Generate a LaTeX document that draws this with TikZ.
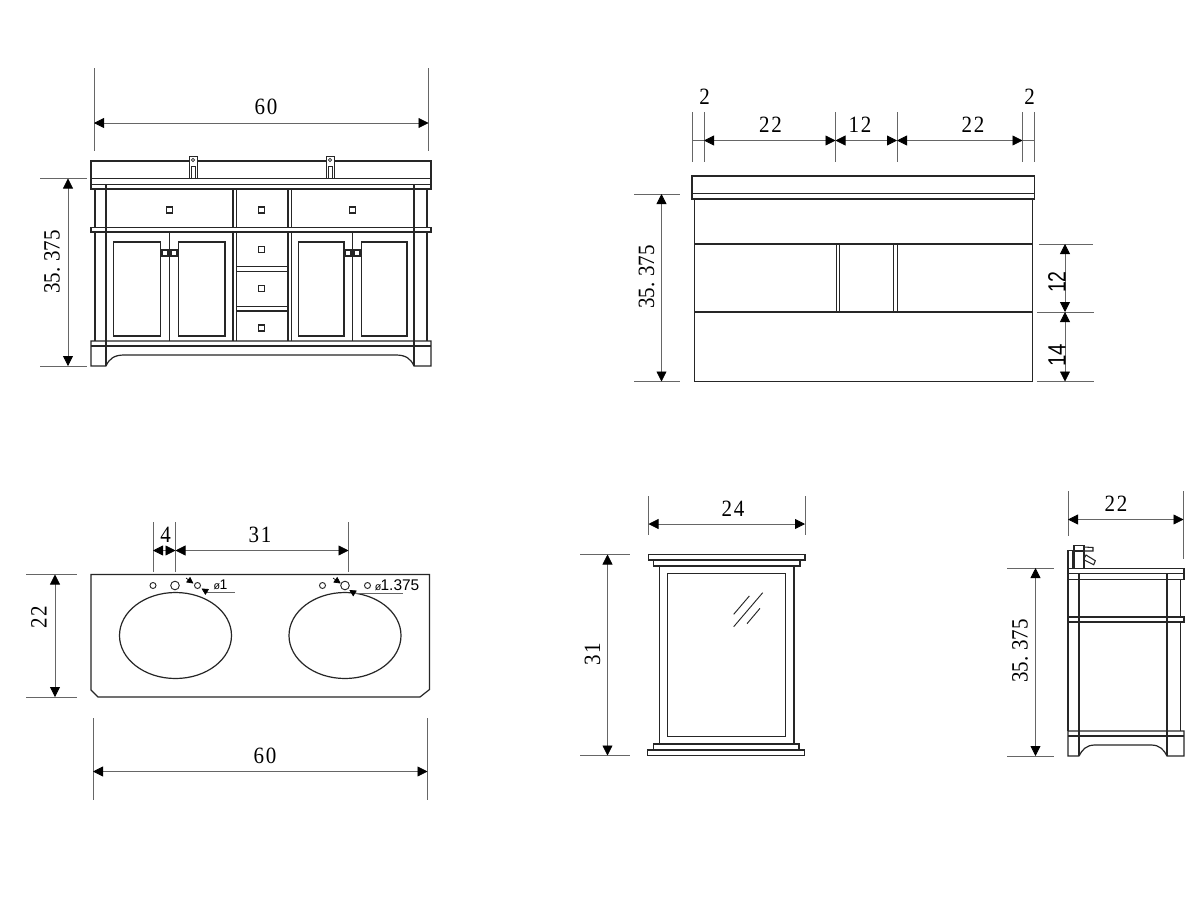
\documentclass[tikz,border=0pt]{standalone}
\usepackage{fontspec}
\usetikzlibrary{arrows.meta}
\newfontfamily\sansfnt{Liberation Sans}
\newfontfamily\dimfnt{Liberation Serif}
\definecolor{dimgray}{gray}{0.4}
\newcommand{\dimtxt}[1]{\dimfnt\fontsize{17.5}{20}\selectfont\scalebox{.9}[1]{#1}}
\newcommand{\dgap}{\kern1.6pt}
\tikzset{
  part/.style={draw=black!85,line width=.9pt,line join=miter},
  ext/.style={draw=dimgray,line width=.6pt},
  dimline/.style={draw=dimgray,line width=.6pt,{Triangle[length=7.5pt,width=7.5pt,color=black]}-{Triangle[length=7.5pt,width=7.5pt,color=black]}},
  txtlab/.style={inner sep=0pt,text=black},
  vlabel/.style={inner sep=0pt,rotate=90,text=black},
  knob/.style={part,line width=.8pt,minimum size=4.5pt,inner sep=0pt,rectangle},
  hole/.style={part,line width=.7pt},
  smallarrow/.style={draw=black,line width=.5pt,-{Triangle[length=5pt,width=5pt,color=black]}},
  leader/.style={draw=dimgray,line width=.6pt},
}
\begin{document}
\begin{tikzpicture}[x=.75pt,y=-.75pt]
\useasboundingbox (0,0) rectangle (1200,900);
\fill[white] (0,0) rectangle (1200,900);

% ---------- front view ----------
\draw[ext] (94,68)--(94,151) (428.5,68)--(428.5,151);
\draw[dimline] (94,123)--(428.5,123);
\node[txtlab] (front60) at (266,107) {\dimtxt{6\dgap 0}};
\draw[ext] (40,178.5)--(87,178.5) (40,366)--(87,366);
\draw[dimline] (68,178.5)--(68,366);
\node[vlabel] (frontH) at (52,262) {\dimtxt{35.\dgap\dgap\dgap 375}};
% counter
\draw[part] (91,161) rectangle (431,189);
\draw[part] (91,178.5)--(431,178.5) (91,184.5)--(431,184.5);
% faucets
\foreach \c in {193,330}{
  \draw[part,line width=.7pt,fill=white] (\c-4,156) rectangle (\c+4,178.5);
  \draw[part,line width=.5pt] (\c,160) circle (1.6);
  \draw[part,line width=.7pt] (\c-2,166) rectangle (\c+2,178.5);
}
% legs and shelf
\draw[part] (95,189)--(95,341) (427,189)--(427,341);
\draw[part] (106,184.5)--(106,366) (414,184.5)--(414,366);
% centre uprights
\draw[part] (233,189)--(233,341) (236.7,189)--(236.7,341) (288,189)--(288,341) (291.5,189)--(291.5,341);
\draw[part] (236.7,266.5)--(288,266.5) (236.7,271.5)--(288,271.5) (236.7,306.5)--(288,306.5) (236.7,311)--(288,311);
\draw[part,fill=white] (91,227.5) rectangle (431,232);
\draw[part] (106,227.5)--(106,232) (414,227.5)--(414,232);
% doors
\draw[part] (113.5,242) rectangle (160.5,336) (178.5,242) rectangle (225,336)
            (298.5,242) rectangle (344,336) (361.5,242) rectangle (407,336);
\draw[part] (169.5,232)--(169.5,341) (352.5,232)--(352.5,341);
% base
\draw[part] (106,366)--(91,366)--(91,341)--(431,341)--(431,366)--(414,366)
  .. controls (411,359) and (406,355) .. (396,355) -- (124,355) .. controls (114,355) and (109,359) .. (106,366);
\draw[part] (91,346)--(431,346);
% knobs
\foreach \n/\p/\q in {k1/169.5/210,k2/261.5/210,k3/352.5/210,k4/261.5/249.5,k5/261.5/288.5,k6/261.5/328,k7/165/253,k8/174/253,k9/348/253,k10/357/253}{
  \node[knob] (\n) at (\p,\q) {};
}

% ---------- back view ----------
\draw[ext] (692,112)--(692,162) (704,112)--(704,162) (835.5,112)--(835.5,162)
           (897,112)--(897,162) (1022.5,112)--(1022.5,162) (1034.5,112)--(1034.5,162);
\draw[ext] (692,140.5)--(704,140.5) (1022.5,140.5)--(1034.5,140.5);
\draw[dimline] (704,140.5)--(835.5,140.5);
\draw[dimline] (835.5,140.5)--(897,140.5);
\draw[dimline] (897,140.5)--(1022.5,140.5);
\node[txtlab] (b2a) at (704.5,97) {\dimtxt{2}};
\node[txtlab] (b22a) at (770.5,125) {\dimtxt{2\dgap 2}};
\node[txtlab] (b12) at (860,125) {\dimtxt{1\dgap 2}};
\node[txtlab] (b22b) at (973,125) {\dimtxt{2\dgap 2}};
\node[txtlab] (b2b) at (1029.5,97) {\dimtxt{2}};
\draw[part] (692,176) rectangle (1034.5,199);
\draw[part] (692,193.5)--(1034.5,193.5);
\draw[part] (694.5,199) rectangle (1032.5,381.5);
\draw[part] (694.5,244)--(1032.5,244) (694.5,312)--(1032.5,312);
\draw[part,line width=.7pt] (836,244)--(836,312) (839.8,244)--(839.8,312) (893.5,244)--(893.5,312) (897.5,244)--(897.5,312);
\draw[ext] (634,194)--(680,194) (634,381.5)--(680,381.5);
\draw[dimline] (661.5,194)--(661.5,381.5);
\node[vlabel] (backH) at (646.5,277) {\dimtxt{35.\dgap\dgap\dgap 375}};
\draw[ext] (1039,244)--(1093,244) (1037,312)--(1094,312) (1037,381.5)--(1094,381.5);
\draw[dimline] (1065,244)--(1065,312);
\draw[dimline] (1065,312)--(1065,381.5);
\node[vlabel] (r12) at (1057,282) {\sansfnt\fontsize{18.75}{20}\selectfont\scalebox{.78}[1]{12}};
\node[vlabel] (r14) at (1057,355) {\sansfnt\fontsize{18.75}{20}\selectfont\scalebox{.82}[1]{14}};

% ---------- top view ----------
\draw[ext] (153,522)--(153,571.5) (175.5,522)--(175.5,571.5) (348.5,522)--(348.5,571.5);
\draw[dimline] (153,550.5)--(175.5,550.5);
\draw[dimline] (175.5,550.5)--(348.5,550.5);
\node[txtlab] (t4) at (165.5,535) {\dimtxt{4}};
\node[txtlab] (t31) at (260,535) {\dimtxt{3\dgap 1}};
\draw[part] (91,574.5)--(429.5,574.5)--(429.5,689.5)--(420,697)--(98,697)--(91,690)--cycle;
\draw[part] (175.5,635.5) ellipse (56 and 43);
\draw[part] (345,635.5) ellipse (56 and 43);
\foreach \p/\r in {153/3,175/4.3,197.5/3,322.5/3,345/4.3,367.5/3}{
  \draw[hole] (\p,585.5) circle (\r);
}
\draw[smallarrow] (186,578)--(193.5,583.5);
\draw[smallarrow] (208,592.5)--(201.5,588.5);
\draw[leader] (208,592.5)--(235,592.5);
\node[txtlab] (d1) at (220.5,584.5) {\sansfnt\fontsize{10.5}{12}\selectfont{\fontsize{8}{9}\selectfont ø}\kern-.5pt 1};
\draw[smallarrow] (333,578)--(340.7,583.5);
\draw[smallarrow] (355,593.5)--(349.3,590);
\draw[leader] (355,593.5)--(403,593.5);
\node[txtlab,anchor=west] (d2) at (374.5,585) {\sansfnt\fontsize{11.6}{12}\selectfont{\fontsize{8}{9}\selectfont ø}\kern-.5pt 1.375};
\draw[ext] (26,574.5)--(77,574.5) (26,697)--(77,697);
\draw[dimline] (55,574.5)--(55,697);
\node[vlabel] (t22) at (39,617.5) {\dimtxt{2\dgap 2}};
\draw[ext] (93,718)--(93,800) (427.5,718)--(427.5,800);
\draw[dimline] (93,771.5)--(427.5,771.5);
\node[txtlab] (t60) at (265,756) {\dimtxt{6\dgap 0}};

% ---------- mirror ----------
\draw[ext] (648.5,496)--(648.5,535) (805,496)--(805,535);
\draw[dimline] (648.5,524)--(805,524);
\node[txtlab] (m24) at (733,509) {\dimtxt{2\dgap 4}};
\draw[part] (648.5,554.5) rectangle (805,560);
\draw[part] (653.5,560) rectangle (800,566);
\draw[part] (659.5,566) rectangle (794,744);
\draw[part] (667.5,573.5) rectangle (785.5,736.5);
\draw[part] (653.5,744) rectangle (799,750);
\draw[part] (647.5,750) rectangle (804.5,755.5);
\draw[part,line width=.7pt] (733.7,614.3)--(749.3,596) (733.7,626.7)--(762.7,592.7) (747,623.7)--(760,608.3);
\draw[ext] (580,554.5)--(630,554.5) (580,755.5)--(630,755.5);
\draw[dimline] (607.5,554.5)--(607.5,755.5);
\node[vlabel] (m31) at (592.5,654) {\dimtxt{3\dgap 1}};

% ---------- side view ----------
\draw[ext] (1068,491)--(1068,536) (1183.5,491)--(1183.5,559);
\draw[dimline] (1068,519.5)--(1183.5,519.5);
\node[txtlab] (s22) at (1116,504) {\dimtxt{2\dgap 2}};
\draw[part] (1068,568.5) rectangle (1184,579.5);
\draw[part] (1068,573.5)--(1184,573.5);
\draw[part] (1068,579.5)--(1068,731) (1079,573.5)--(1079,756) (1167,573.5)--(1167,756) (1180.5,579.5)--(1180.5,731);
\draw[part,fill=white] (1068,617) rectangle (1184,622);
\draw[part] (1079,617)--(1079,622) (1167,617)--(1167,622);
\draw[part] (1079,756)--(1068,756)--(1068,731)--(1184,731)--(1184,756)--(1167,756)
  .. controls (1164,750) and (1160,745) .. (1151,745) -- (1095,745) .. controls (1086,745) and (1082,750) .. (1079,756);
\draw[part] (1068,736)--(1184,736);
\draw[part,line width=.8pt] (1068,568.5)--(1068,550.5)--(1072.5,550.5)--(1072.5,568.5);
\draw[part,line width=.8pt] (1074,568.5)--(1074,545.5)--(1084,545.5)--(1084,568.5);
\draw[part,line width=.8pt] (1074,551)--(1084,551);
\draw[part,line width=.8pt] (1084,547)--(1093,547.5)--(1093,551)--(1084,551);
\draw[part,line width=.8pt] (1084.3,558)--(1086,555)--(1095.3,560.7)--(1093.7,564.7)--(1084.3,560);
\draw[ext] (1007,568)--(1054,568) (1007,756)--(1054,756);
\draw[dimline] (1035.5,568)--(1035.5,756);
\node[vlabel] (sH) at (1020,651) {\dimtxt{35.\dgap\dgap\dgap 375}};
\end{tikzpicture}
\end{document}
